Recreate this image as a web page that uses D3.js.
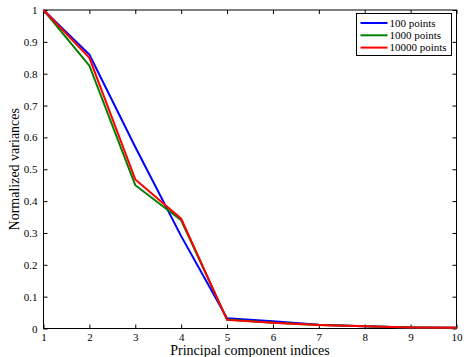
<!DOCTYPE html>
<html>
<head>
<meta charset="utf-8">
<script src="https://cdn.jsdelivr.net/npm/d3@7"></script>
<style>
  body { margin: 0; background: #fff; }
</style>
</head>
<body>
<div id="chart"></div>
<script>
// component indices 1..10
var components = [1, 2, 3, 4, 5, 6, 7, 8, 9, 10];

var series100 = [1, 0.860, 0.570, 0.290, 0.032, 0.023, 0.012, 0.007, 0.003, 0.002];
var series1000 = [1, 0.825, 0.450, 0.340, 0.028, 0.018, 0.011, 0.007, 0.003, 0.002];
var series10000 = [1, 0.850, 0.468, 0.345, 0.027, 0.018, 0.011, 0.007, 0.003, 0.002];

var seriesNames = ['100 points', '1000 points', '10000 points'];
var seriesColors = ['#0000ff', '#008000', '#ff0000'];
var yTicks = [0, 0.1, 0.2, 0.3, 0.4, 0.5, 0.6, 0.7, 0.8, 0.9, 1];

var serif = "'Liberation Serif', 'Times New Roman', Times, 'DejaVu Serif', serif";

var width = 464, height = 357;
var margin = { top: 10, right: 7.5, bottom: 28.5, left: 43.5 };
var plotW = width - margin.left - margin.right;
var plotH = height - margin.top - margin.bottom;

var svg = d3.select('#chart').append('svg')
  .attr('width', width)
  .attr('height', height)
  .style('font-family', serif);

var root = svg.append('g')
  .attr('transform', 'translate(' + margin.left + ',' + margin.top + ')');

var x = d3.scaleLinear().domain([1, 10]).range([0, plotW]);
var y = d3.scaleLinear().domain([0, 1]).range([plotH, 0]);

// axes, ticks pointing inward like matlab
function styleAxis(g) {
  g.attr('font-family', null);
  g.select('.domain').remove();
  g.selectAll('.tick line').attr('stroke', '#000');
  g.selectAll('.tick text')
    .attr('fill', '#000')
    .style('font-family', serif)
    .style('font-size', '11px');
}

root.append('g')
  .attr('transform', 'translate(0,' + plotH + ')')
  .call(d3.axisBottom(x).tickValues(components).tickSizeInner(-4).tickPadding(5)
    .tickFormat(d3.format('d')))
  .call(styleAxis);

root.append('g')
  .call(d3.axisTop(x).tickValues(components).tickSizeInner(-4).tickFormat(''))
  .call(styleAxis);

root.append('g')
  .call(d3.axisLeft(y).tickValues(yTicks).tickSizeInner(-4).tickPadding(6)
    .tickFormat(function (d) { return d === 0 || d === 1 ? String(d) : d3.format('.1f')(d); }))
  .call(styleAxis);

root.append('g')
  .attr('transform', 'translate(' + plotW + ',0)')
  .call(d3.axisRight(y).tickValues(yTicks).tickSizeInner(-4).tickFormat(''))
  .call(styleAxis);

root.append('rect')
  .attr('width', plotW)
  .attr('height', plotH)
  .attr('fill', 'none')
  .attr('stroke', '#000')
  .attr('stroke-width', 1);

// lines
var allSeries = [series100, series1000, series10000];
var line = d3.line()
  .x(function (d, i) { return x(components[i]); })
  .y(function (d) { return y(d); });

allSeries.forEach(function (vals, i) {
  root.append('path')
    .datum(vals)
    .attr('fill', 'none')
    .attr('stroke', seriesColors[i])
    .attr('stroke-width', 2)
    .attr('d', line);
});

// legend
var legend = svg.append('g').attr('transform', 'translate(356.5,13.5)');
legend.append('rect')
  .attr('width', 95)
  .attr('height', 42)
  .attr('fill', '#fff')
  .attr('stroke', '#000');

seriesNames.forEach(function (name, i) {
  var ly = 9.5 + i * 12.3;
  legend.append('line')
    .attr('x1', 4).attr('x2', 31)
    .attr('y1', ly).attr('y2', ly)
    .attr('stroke', seriesColors[i])
    .attr('stroke-width', 2);
  legend.append('text')
    .attr('x', 33)
    .attr('y', ly)
    .attr('dy', '0.35em')
    .style('font-family', serif)
    .style('font-size', '11px')
    .text(name);
});

// axis titles
svg.append('text')
  .attr('x', margin.left + plotW / 2)
  .attr('y', 355)
  .attr('text-anchor', 'middle')
  .style('font-family', serif)
  .style('font-size', '14px')
  .text('Principal component indices');

svg.append('text')
  .attr('transform', 'translate(19,' + (margin.top + plotH / 2) + ') rotate(-90)')
  .attr('text-anchor', 'middle')
  .style('font-family', serif)
  .style('font-size', '14px')
  .text('Normalized variances');
</script>
</body>
</html>
